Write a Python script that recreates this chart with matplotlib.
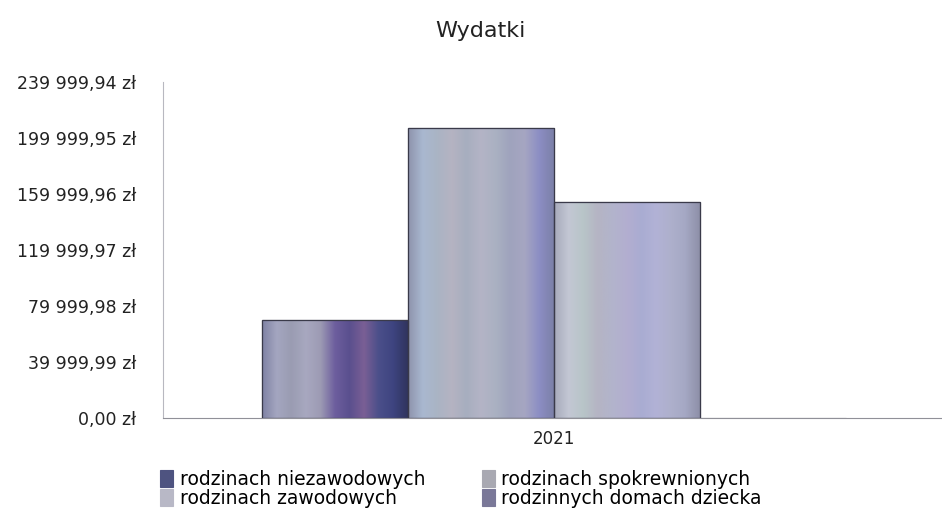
import numpy as np
import matplotlib
matplotlib.use("Agg")
import matplotlib.pyplot as plt
from matplotlib.ticker import FuncFormatter
from matplotlib.colors import LinearSegmentedColormap

title = "Wydatki"
categories = ["2021"]
series_names = ["rodzinach niezawodowych", "rodzinach zawodowych",
                "rodzinach spokrewnionych", "rodzinnych domach dziecka"]
values = [70000, 207500, 154500, 0]
y_max = 239999.94
y_ticks = [0, 39999.99, 79999.98, 119999.97, 159999.96, 199999.95, 239999.94]

base_colors = ["#6e6c9c", "#b4b6c8", "#a9abb8", "#7c7a9e"]
stripe_colors = [
    ["#7f82a4", "#a4a6c0", "#9a9cb2", "#a8a8c0", "#9d9bb4", "#6d5e9e", "#5a4f8e", "#7a5f95", "#4b4f8a", "#3e4480", "#30345e"],
    ["#8e93ac", "#a9b8d0", "#aab4c4", "#b5b3c2", "#a7aebf", "#b4b4c6", "#aab1c2", "#9fa3bd", "#a6a6c2", "#8c8ec4", "#7c80a8"],
    ["#a7aabb", "#c3c7d4", "#b8c5c8", "#b5b4c4", "#b2b4cc", "#b3aed0", "#a9acd2", "#b2b2d6", "#aeb0cc", "#a5a8c4", "#8e90a8"],
    ["#7c7a9e", "#7c7a9e"],
]

plt.rcParams["font.family"] = ["DejaVu Sans"]
fig = plt.figure(figsize=(9.42, 5.14), dpi=100)
ax = fig.add_axes([0.173, 0.187, 0.83, 0.653])

n = len(series_names)
w = 1.0
x0 = 0.0
offsets = (np.arange(n) - (n - 1) / 2) * w
bars = []
for i, (name, v) in enumerate(zip(series_names, values)):
    b = ax.bar(x0 + offsets[i], v, width=w, color=base_colors[i],
               edgecolor="#3a3a4a", linewidth=0.8, label=name, zorder=2)
    bars.append(b)
    rect = b.patches[0]
    if v > 0:
        cmap = LinearSegmentedColormap.from_list(f"s{i}", stripe_colors[i])
        grad = np.linspace(0, 1, 256).reshape(1, -1)
        im = ax.imshow(grad, cmap=cmap, aspect="auto",
                       extent=[rect.get_x(), rect.get_x() + rect.get_width(), 0, v],
                       zorder=2.5, interpolation="bicubic")
        im.set_clip_path(rect)
        ax.bar(x0 + offsets[i], v, width=w, fill=False,
               edgecolor="#3a3a4a", linewidth=0.9, zorder=3)

ax.set_xlim(-2.68, 2.68)
ax.set_ylim(0, y_max)
ax.set_yticks(y_ticks)

def fmt(v, pos):
    s = f"{v:,.2f}".replace(",", " ").replace(".", ",")
    return s + " zł"

ax.yaxis.set_major_formatter(FuncFormatter(fmt))
ax.set_xticks([x0])
ax.set_xticklabels(categories)
ax.tick_params(axis="y", length=0, labelsize=12.5, colors="#222222", pad=19)
ax.tick_params(axis="x", length=0, labelsize=12, colors="#222222", pad=9)
for lab in ax.get_yticklabels():
    lab.set_va("center_baseline")

for s in ["top", "right"]:
    ax.spines[s].set_visible(False)
ax.spines["left"].set_color("#b8b8c0")
ax.spines["left"].set_linewidth(0.8)
ax.spines["bottom"].set_color("#909098")
ax.spines["bottom"].set_linewidth(0.8)

fig.text(0.51, 0.94, title, ha="center", va="center", fontsize=16, color="#222222")

handles = [b.patches[0] for b in bars]
leg = fig.legend(handles, series_names, loc="upper left", bbox_to_anchor=(0.16, 0.104),
                 ncol=2, frameon=False, fontsize=13.5, handlelength=0.7, handleheight=1.0,
                 handletextpad=0.35, columnspacing=3.0, labelspacing=0.0, borderpad=0)
for h, c in zip(leg.legend_handles, ["#4e5380", "#b8b8c6", "#a9a9b2", "#7a7898"]):
    h.set_facecolor(c)
    h.set_edgecolor(c)

fig.savefig("out.png", dpi=100)
